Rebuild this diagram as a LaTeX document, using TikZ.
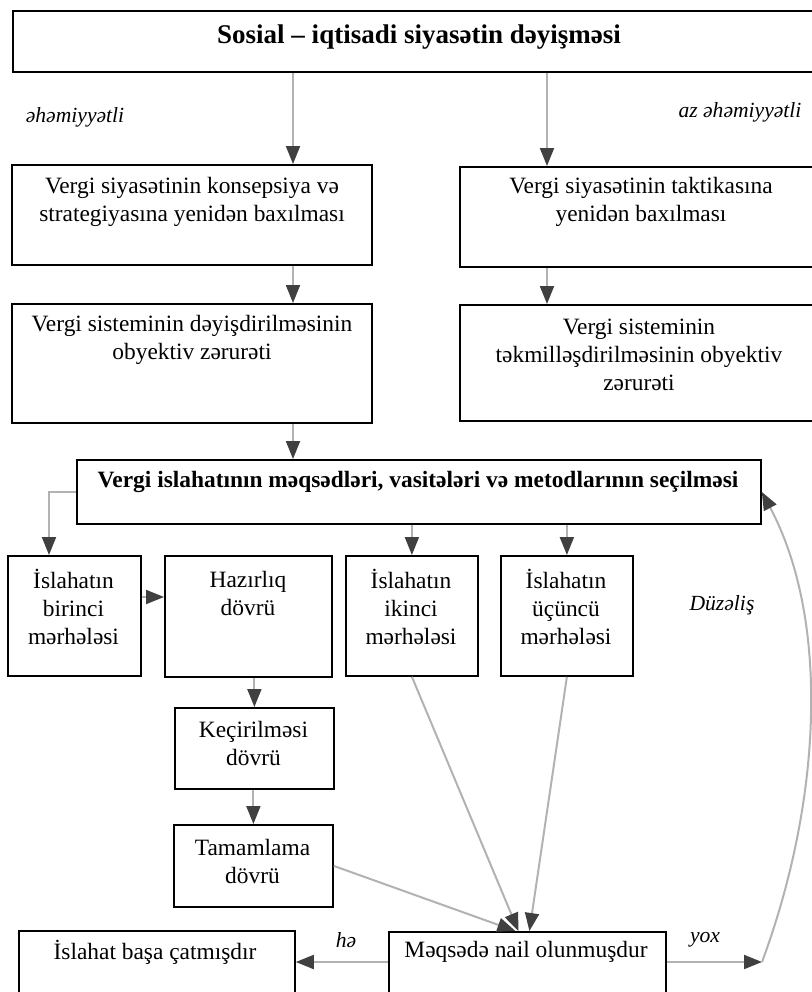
\documentclass[tikz,border=0pt]{standalone}
\usepackage{fontspec}
\setmainfont{Liberation Serif}
\usetikzlibrary{arrows.meta,positioning}

\begin{document}
\begin{tikzpicture}[x=0.5pt,y=-0.5pt,font=\fontsize{11.7}{14}\selectfont,
  box/.style 2 args={draw,line width=.9pt,anchor=north west,inner sep=0pt,minimum width=#1*.5pt,minimum height=#2*.5pt},
  txt/.style={align=center,inner sep=0pt},
  lbl/.style={font=\fontsize{10.8}{13}\selectfont\itshape,inner sep=0pt},
  arr/.style={draw=black!30,line width=1pt,-{Triangle[length=9pt,width=7pt,color=black!75]}}]
\useasboundingbox (0,0) rectangle (811,992);

\node[box={801}{61}] (T) at (12,10) {};
\node[txt] (Tt) at (419,37) {\fontsize{13.5}{16}\selectfont\bfseries Sosial – iqtisadi siyasətin dəyişməsi};

\node[box={360}{100}] (A1) at (11,164) {};
\node[txt] (A1t) at (192,202) {Vergi siyasətinin konsepsiya və\\strategiyasına yenidən baxılması};
\node[box={354}{100}] (B1) at (459,166) {};
\node[txt] (B1t) at (641,202) {Vergi siyasətinin taktikasına\\yenidən baxılması};
\node[box={360}{119}] (A2) at (11,303) {};
\node[txt] (A2t) at (192,340) {Vergi sisteminin dəyişdirilməsinin\\obyektiv zərurəti};
\node[box={354}{116}] (B2) at (459,304) {};
\node[txt] (B2t) at (639,355) {Vergi sisteminin\\təkmilləşdirilməsinin obyektiv\\zərurəti};

\node[box={684}{64}] (C) at (76,459) {};
\node[txt] (Ct) at (418,482) {\bfseries Vergi islahatının məqsədləri, vasitələri və metodlarının seçilməsi};

\node[box={133}{120}] (D1) at (7,555) {};
\node[txt] (D1t) at (73.5,607) {İslahatın\\birinci\\mərhələsi};
\node[box={167}{121}] (D2) at (164,555) {};
\node[txt] (D2t) at (248,593) {Hazırlıq\\dövrü};
\node[box={132}{120}] (D3) at (345,555) {};
\node[txt] (D3t) at (411,607) {İslahatın\\ikinci\\mərhələsi};
\node[box={132}{120}] (D4) at (500,555) {};
\node[txt] (D4t) at (566,607) {İslahatın\\üçüncü\\mərhələsi};

\node[box={159}{81}] (E1) at (174,707) {};
\node[txt] (E1t) at (253.5,743) {Keçirilməsi\\dövrü};
\node[box={159}{82}] (E2) at (173,824) {};
\node[txt] (E2t) at (252.5,861) {Tamamlama\\dövrü};

\node[box={276}{80}] (G) at (18,930) {};
\node[txt] (Gt) at (155,952) {İslahat başa çatmışdır};
\node[box={277}{80}] (F) at (388,931) {};
\node[txt] (Ft) at (526,952) {Məqsədə nail olunmuşdur};

% labels
\node[lbl] (imp) at (75,117) {əhəmiyyətli};
\node[lbl] (lessimp) at (740,112) {az əhəmiyyətli};
\node[lbl] (fix) at (722,605) {Düzəliş};
\node[lbl] (yes) at (346,940) {hə};
\node[lbl] (no) at (705,940) {yox};

\coordinate (colA) at (293,0);
\coordinate (colB) at (547,0);
\coordinate (colL) at (49,0);
\coordinate (rowH) at (0,597);
\coordinate (rowY) at (0,962);
\coordinate (ret) at (762,962);

\foreach \i/\j/\c in {T/A1/colA,A1/A2/colA,A2/C/colA,T/B1/colB,B1/B2/colB,C/D3/D3,C/D4/D4,D2/E1/E1,E1/E2/E2} {
  \draw[arr] (\i.south -| \c) -- (\j.north -| \c);
}
\draw[arr] (C.west) -| (colL |- D1.north);
\draw[arr] (D1.east |- rowH) -- (D2.west |- rowH);
\draw[arr] (D3.south) -- ([xshift=-4.5pt]F.north);
\draw[arr] (D4.south) -- ([xshift=1pt]F.north);
\draw[arr] (E2.east) -- ([xshift=-6pt]F.north);
% yes / no
\draw[arr] (F.west |- rowY) -- (G.east |- rowY);
\draw[arr] (F.east |- rowY) -- (ret);
\draw[arr] (ret) .. controls (822,800) and (830,620) .. (C.east);
\end{tikzpicture}
\end{document}
